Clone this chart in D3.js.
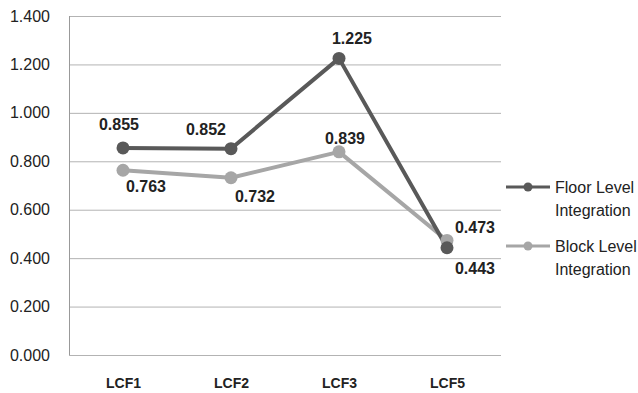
<!DOCTYPE html>
<html>
<head>
<meta charset="utf-8">
<script src="https://cdn.jsdelivr.net/npm/d3@7"></script>
<style>
  html, body { margin: 0; padding: 0; background: #fff; }
  svg { display: block; font-family: "Liberation Sans", Arial, sans-serif; }
</style>
</head>
<body>
<svg id="chart" width="638" height="393"></svg>
<script>
// Categories and the two integration series
const categories = ["LCF1", "LCF2", "LCF3", "LCF5"];
const floorLevel = [0.855, 0.852, 1.225, 0.443];
const blockLevel = [0.763, 0.732, 0.839, 0.473];
const yTicks = [0, 0.2, 0.4, 0.6, 0.8, 1.0, 1.2, 1.4];
const seriesNames = [["Floor Level", "Integration"], ["Block Level", "Integration"]];

const svg = d3.select("#chart");
const plot = { left: 69, right: 501, top: 16, bottom: 355 };

const x = d3.scalePoint().domain(categories).range([plot.left, plot.right]).padding(0.5);
const y = d3.scaleLinear().domain([0, 1.4]).range([plot.bottom, plot.top]);

// Gridlines and left axis line
const yAxis = d3.axisLeft(y).tickValues(yTicks).tickFormat(d3.format(".3f"))
  .tickSize(-(plot.right - plot.left)).tickPadding(19);
const gy = svg.append("g").attr("transform", `translate(${plot.left},0)`).call(yAxis);
gy.select(".domain").remove();
gy.selectAll(".tick line").attr("stroke", "#b3b3b3").attr("stroke-width", 1);
gy.selectAll(".tick text").attr("font-size", 16).attr("fill", "#222")
  .attr("font-family", "Liberation Sans, Arial, sans-serif");
svg.append("line").attr("x1", plot.left + 0.5).attr("x2", plot.left + 0.5)
  .attr("y1", plot.top).attr("y2", plot.bottom)
  .attr("stroke", "#999").attr("stroke-width", 1);

// Category labels
const gx = svg.append("g").attr("transform", `translate(0,${plot.bottom})`)
  .call(d3.axisBottom(x).tickSize(0).tickPadding(23));
gx.select(".domain").remove();
gx.selectAll(".tick text").attr("font-size", 14).attr("font-weight", "bold").attr("fill", "#222")
  .attr("font-family", "Liberation Sans, Arial, sans-serif");

// Per-point label offsets (dx to text centre, dy to baseline)
const series = [
  { values: blockLevel, color: "#a6a6a6",
    offsets: [[23, 21.5], [24, 24], [6, -7.5], [28, -7]] },
  { values: floorLevel, color: "#595959",
    offsets: [[-4, -17.5], [-25, -13.5], [13, -14], [28, 26]] }
];

const line = d3.line().x((d, i) => x(categories[i])).y(d => y(d));

series.forEach(s => {
  svg.append("path").datum(s.values).attr("d", line)
    .attr("fill", "none").attr("stroke", s.color).attr("stroke-width", 4).attr("stroke-linejoin", "round");
});
series.forEach(s => {
  svg.selectAll(null).data(s.values).enter().append("circle")
    .attr("cx", (d, i) => x(categories[i])).attr("cy", d => y(d)).attr("r", 6.5).attr("fill", s.color);
});
series.forEach(s => {
  svg.selectAll(null).data(s.values).enter().append("text")
    .attr("x", (d, i) => x(categories[i]) + s.offsets[i][0])
    .attr("y", (d, i) => y(d) + s.offsets[i][1])
    .attr("text-anchor", "middle")
    .attr("font-size", 16).attr("font-weight", "bold").attr("fill", "#222")
    .text(d => d3.format(".3f")(d));
});

// Legend
const legendRows = [
  { color: "#595959", y: 187, names: seriesNames[0] },
  { color: "#a6a6a6", y: 246, names: seriesNames[1] }
];
legendRows.forEach(r => {
  svg.append("line").attr("x1", 506).attr("x2", 550).attr("y1", r.y).attr("y2", r.y)
    .attr("stroke", r.color).attr("stroke-width", 3);
  svg.append("circle").attr("cx", 528).attr("cy", r.y).attr("r", 4.5).attr("fill", r.color);
  r.names.forEach((t, k) => {
    svg.append("text").attr("x", 555).attr("y", r.y + 6 + k * 23)
      .attr("font-size", 16).attr("fill", "#222").text(t);
  });
});
</script>
</body>
</html>
